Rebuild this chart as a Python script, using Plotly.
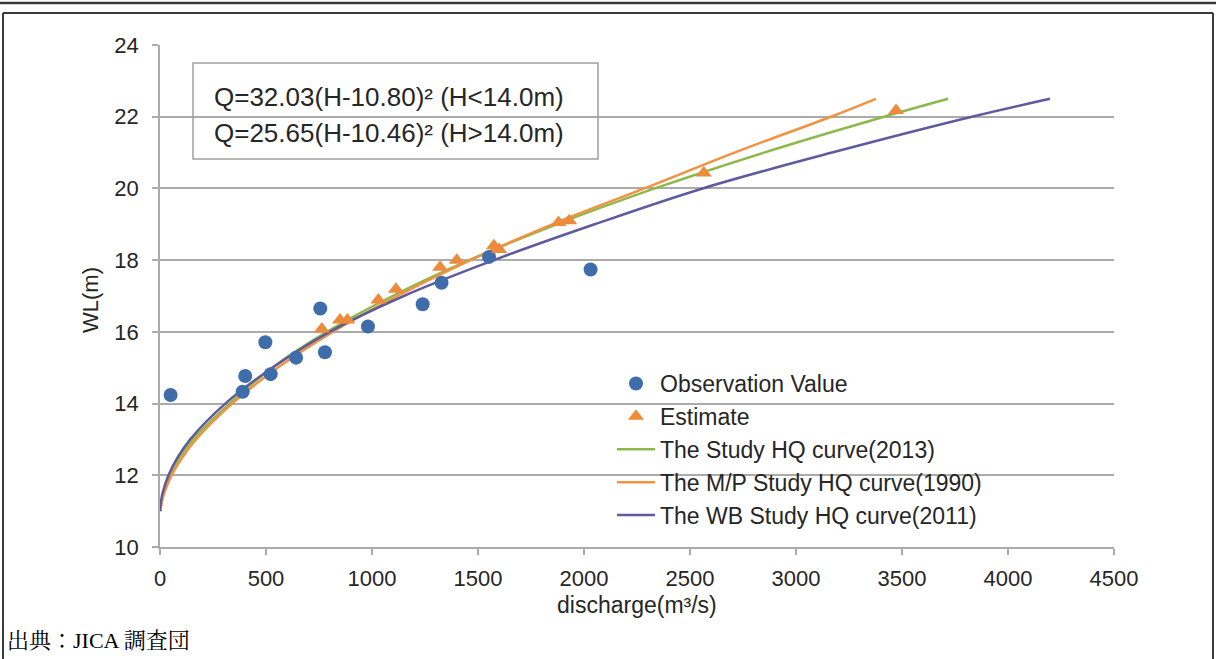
import plotly.graph_objects as go

# ---- data ----
obs_q = [50, 390, 402, 497, 522, 642, 756, 778, 981, 1239, 1328, 1552, 2031]
obs_h = [14.24, 14.33, 14.77, 15.71, 14.82, 15.28, 16.65, 15.43, 16.15, 16.77, 17.37, 18.09, 17.74]

est_q = [763, 849, 884, 1030, 1113, 1321, 1400, 1575, 1600, 1880, 1930, 2565, 3472]
est_h = [16.08, 16.33, 16.33, 16.89, 17.19, 17.80, 18.00, 18.40, 18.30, 19.05, 19.10, 20.43, 22.17]

curve_h = [11.0, 11.25, 11.5, 12.0, 12.5, 13.0, 14.0, 15.0, 16.0, 17.0, 18.0, 19.0, 20.0, 21.0, 22.0, 22.5]
study2013_q = [1.3, 6.5, 15.7, 46, 93, 155, 328, 529, 787, 1097, 1458, 1871, 2334, 2849, 3416, 3718]
mp1990_q = [1.6, 8.5, 20, 55, 106, 170, 340, 555, 815, 1120, 1465, 1850, 2285, 2710, 3165, 3377]
wb2011_q = [0.3, 4.1, 12, 40, 83, 142, 308, 530, 800, 1150, 1575, 2050, 2560, 3170, 3830, 4198]

x_ticks = [0, 500, 1000, 1500, 2000, 2500, 3000, 3500, 4000, 4500]
y_ticks = [10, 12, 14, 16, 18, 20, 22, 24]

names = ["Observation Value", "Estimate", "The Study HQ curve(2013)",
         "The M/P Study HQ curve(1990)", "The WB Study HQ curve(2011)"]
eq_lines = ["Q=32.03(H-10.80)² (H<14.0m)", "Q=25.65(H-10.46)² (H>14.0m)"]
x_title = "discharge(m³/s)"
y_title = "WL(m)"
caption = "出典：JICA 調査団"

# ---- styling ----
FONT = "Liberation Sans, Arial, sans-serif"
TXT = "#262626"
GRID = "#ABABAB"
C_OBS = "#3E6DAA"
C_EST = "#EE8A3C"
C_GREEN = "#8DB84A"
C_ORANGE = "#F0923F"
C_PURPLE = "#5F5A9E"

W, H = 1216, 659
L, R, T, B = 160, 1216 - 1114, 45, 659 - 547
PW, PH = W - L - R, H - T - B


def px(xp):
    return (xp - L) / PW


def py(yp):
    return (H - B - yp) / PH


fig = go.Figure()

fig.add_trace(go.Scatter(x=study2013_q, y=curve_h, mode="lines", name=names[2],
                         line=dict(color=C_GREEN, width=2.5, shape="spline"),
                         legendrank=3, legendgroup="c"))
fig.add_trace(go.Scatter(x=mp1990_q, y=curve_h, mode="lines", name=names[3],
                         line=dict(color=C_ORANGE, width=2.5, shape="spline"),
                         legendrank=4, legendgroup="d"))
fig.add_trace(go.Scatter(x=wb2011_q, y=curve_h, mode="lines", name=names[4],
                         line=dict(color=C_PURPLE, width=2.5, shape="spline"),
                         legendrank=5, legendgroup="e"))
fig.add_trace(go.Scatter(x=obs_q, y=obs_h, mode="markers", name=names[0],
                         marker=dict(color=C_OBS, size=14, symbol="circle"),
                         legendrank=1, legendgroup="a"))
fig.add_trace(go.Scatter(x=est_q, y=est_h, mode="markers", name=names[1],
                         marker=dict(color=C_EST, size=14, symbol="triangle-up"),
                         legendrank=2, legendgroup="b"))

shapes = [
    # top rule of the page
    dict(type="line", xref="paper", yref="paper", x0=px(0), x1=px(W), y0=py(3), y1=py(3),
         line=dict(color="#3a3a3a", width=2.5)),
    # frame around figure
    dict(type="line", xref="paper", yref="paper", x0=px(3), x1=px(1213), y0=py(13), y1=py(13),
         line=dict(color="#3a3a3a", width=2)),
    dict(type="line", xref="paper", yref="paper", x0=px(3), x1=px(3), y0=py(13), y1=py(680),
         line=dict(color="#3a3a3a", width=2)),
    dict(type="line", xref="paper", yref="paper", x0=px(1213), x1=px(1213), y0=py(13), y1=py(680),
         line=dict(color="#3a3a3a", width=2)),
    # equation box
    dict(type="rect", xref="paper", yref="paper", x0=px(193), x1=px(598), y0=py(159), y1=py(63),
         line=dict(color="#A0A0A0", width=1.5), fillcolor="rgba(0,0,0,0)"),
]

annotations = [
    dict(text=eq_lines[0], xref="paper", yref="paper", x=px(212), y=py(97),
         xanchor="left", yanchor="middle", showarrow=False,
         font=dict(family=FONT, size=26, color=TXT)),
    dict(text=eq_lines[1], xref="paper", yref="paper", x=px(212), y=py(133),
         xanchor="left", yanchor="middle", showarrow=False,
         font=dict(family=FONT, size=26, color=TXT)),
    dict(text=x_title, xref="paper", yref="paper", x=px(637), y=py(605),
         xanchor="center", yanchor="middle", showarrow=False,
         font=dict(family=FONT, size=23, color=TXT)),
    dict(text=y_title, xref="paper", yref="paper", x=px(90), y=py(300),
         xanchor="center", yanchor="middle", showarrow=False, textangle=-90,
         font=dict(family=FONT, size=22, color=TXT)),
    dict(text=caption, xref="paper", yref="paper", x=px(5), y=py(640),
         xanchor="left", yanchor="middle", showarrow=False,
         font=dict(family="Liberation Serif, Noto Serif CJK JP, Noto Sans CJK JP, serif", size=22, color="#000000")),
]

fig.update_layout(
    width=W, height=H,
    margin=dict(l=L, r=R, t=T, b=B, pad=0),
    paper_bgcolor="white", plot_bgcolor="white",
    font=dict(family=FONT, size=22, color=TXT),
    shapes=shapes,
    annotations=annotations,
    showlegend=True,
    legend=dict(x=px(612), y=py(362), xanchor="left", yanchor="top",
                bgcolor="rgba(0,0,0,0)", borderwidth=0,
                font=dict(family=FONT, size=23, color=TXT),
                itemwidth=38, tracegroupgap=0, traceorder="grouped"),
    xaxis=dict(range=[0, 4500], tickvals=x_ticks, showgrid=False, zeroline=False,
               showline=True, linecolor=GRID, linewidth=1.5,
               ticks="outside", ticklen=6, tickcolor=GRID, tickwidth=1.5,
               ticklabelstandoff=5,
               tickfont=dict(family=FONT, size=22, color=TXT)),
    yaxis=dict(range=[10, 24], tickvals=y_ticks, showgrid=True, gridcolor=GRID, gridwidth=1.5,
               zeroline=False, showline=True, linecolor=GRID, linewidth=1.5,
               ticks="outside", ticklen=6, tickcolor=GRID, tickwidth=1.5,
               ticklabelstandoff=9,
               tickfont=dict(family=FONT, size=22, color=TXT)),
)

fig.write_html("out.html",
               config={"displayModeBar": False},
               post_script="document.body.style.margin='0px';document.body.style.overflow='hidden';")
